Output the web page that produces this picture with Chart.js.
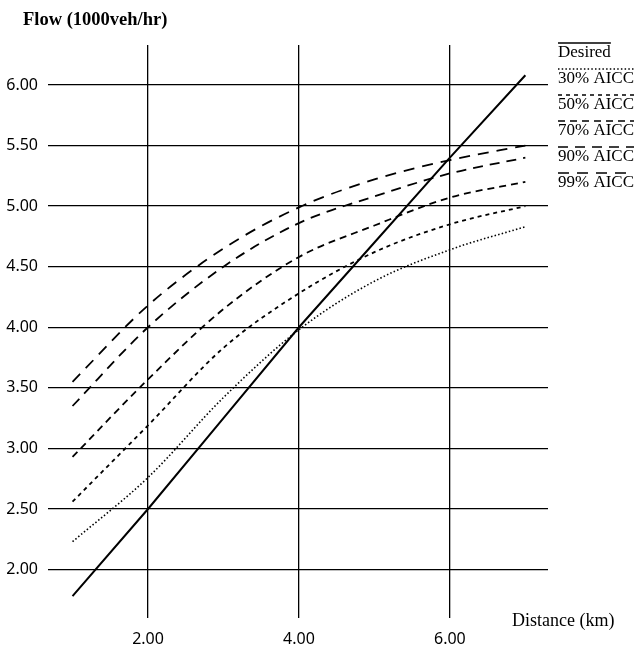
<!DOCTYPE html>
<html>
<head>
<meta charset="utf-8">
<script src="https://cdn.jsdelivr.net/npm/chart.js@4/dist/chart.umd.min.js"></script>
<style>
  body { margin: 0; background: #fff; }
  #wrap { width: 644px; height: 649px; position: relative; }
</style>
</head>
<body>
<div id="wrap"><canvas id="chart"></canvas></div>
<script>
// distance (km) where each curve was sampled
const distance = [1, 2, 3, 4, 5, 6, 7];

// flow (1000 veh/hr)
const desired = [1.78, 2.50, 3.25, 4.00, 4.70, 5.40, 6.08];
const aicc30 = [2.23, 2.76, 3.42, 3.98, 4.38, 4.64, 4.83];
const aicc50 = [2.56, 3.19, 3.83, 4.28, 4.62, 4.85, 5.00];
const aicc70 = [2.93, 3.57, 4.15, 4.58, 4.84, 5.07, 5.20];
const aicc90 = [3.35, 4.00, 4.50, 4.86, 5.08, 5.27, 5.40];
const aicc99 = [3.55, 4.18, 4.65, 4.99, 5.22, 5.38, 5.50];

const seriesLabels = ['Desired', '30% AICC', '50% AICC', '70% AICC', '90% AICC', '99% AICC'];
const xTicks = [2, 4, 6];
const yTicks = [2.0, 2.5, 3.0, 3.5, 4.0, 4.5, 5.0, 5.5, 6.0];

const serif = '"Liberation Serif", "Times New Roman", serif';

function pts(values) {
  return distance.map((d, i) => ({ x: d, y: values[i] }));
}

const styles = [
  { dash: [], width: 2, tension: 0 },
  { dash: [1.5, 2.2], width: 1.6, tension: 0.4 },
  { dash: [4, 4], width: 1.8, tension: 0.4 },
  { dash: [7, 5], width: 1.8, tension: 0.4 },
  { dash: [10, 7], width: 1.8, tension: 0.4 },
  { dash: [11, 8], width: 1.8, tension: 0.4 }
];

const seriesValues = [desired, aicc30, aicc50, aicc70, aicc90, aicc99];

const datasets = seriesValues.map((vals, i) => ({
  label: seriesLabels[i],
  data: pts(vals),
  borderColor: '#000',
  borderWidth: styles[i].width,
  borderDash: styles[i].dash,
  tension: styles[i].tension,
  cubicInterpolationMode: i === 0 ? 'default' : 'monotone',
  pointRadius: 0,
  fill: false
}));

// axis titles and the overlined legend on the right
const annotations = {
  id: 'annotations',
  afterDraw(chart) {
    const ctx = chart.ctx;
    ctx.save();
    ctx.fillStyle = '#000';
    ctx.strokeStyle = '#000';
    ctx.textBaseline = 'middle';
    ctx.textAlign = 'left';
    ctx.font = 'bold 18.5px ' + serif;
    ctx.fillText('Flow (1000veh/hr)', 23, 20);
    ctx.font = '18px ' + serif;
    ctx.fillText('Distance (km)', 512, 621);

    ctx.font = '17px ' + serif;
    chart.data.datasets.forEach((ds, i) => {
      const y = 53 + i * 26;
      ctx.fillText(ds.label, 558, y);
      const w = ctx.measureText(ds.label).width;
      ctx.setLineDash(ds.borderDash);
      ctx.lineWidth = 1.6;
      ctx.beginPath();
      ctx.moveTo(558, y - 10);
      ctx.lineTo(558 + w, y - 10);
      ctx.stroke();
    });
    ctx.restore();
  }
};

new Chart(document.getElementById('chart'), {
  type: 'line',
  data: { datasets },
  options: {
    responsive: true,
    maintainAspectRatio: false,
    animation: false,
    layout: { padding: { top: 45, right: 96, left: 0, bottom: 0 } },
    plugins: {
      legend: { display: false },
      tooltip: { enabled: false }
    },
    scales: {
      x: {
        type: 'linear',
        min: 0.675,
        max: 7.3,
        afterBuildTicks: s => { s.ticks = xTicks.map(v => ({ value: v })); },
        afterFit: s => { s.height = 31; },
        grid: { color: '#000', lineWidth: 1.3, drawTicks: false },
        border: { display: false },
        ticks: {
          color: '#000',
          padding: 12,
          font: { family: '"Noto Sans", sans-serif', size: 16 },
          callback: v => Number(v).toFixed(2)
        }
      },
      y: {
        type: 'linear',
        min: 1.6,
        max: 6.33,
        afterBuildTicks: s => { s.ticks = yTicks.map(v => ({ value: v })); },
        afterFit: s => { s.width = 48; },
        grid: { color: '#000', lineWidth: 1.3, drawTicks: false },
        border: { display: false },
        ticks: {
          color: '#000',
          padding: 10,
          font: { family: '"Noto Sans", sans-serif', size: 16 },
          callback: v => Number(v).toFixed(2)
        }
      }
    }
  },
  plugins: [annotations]
});
</script>
</body>
</html>
